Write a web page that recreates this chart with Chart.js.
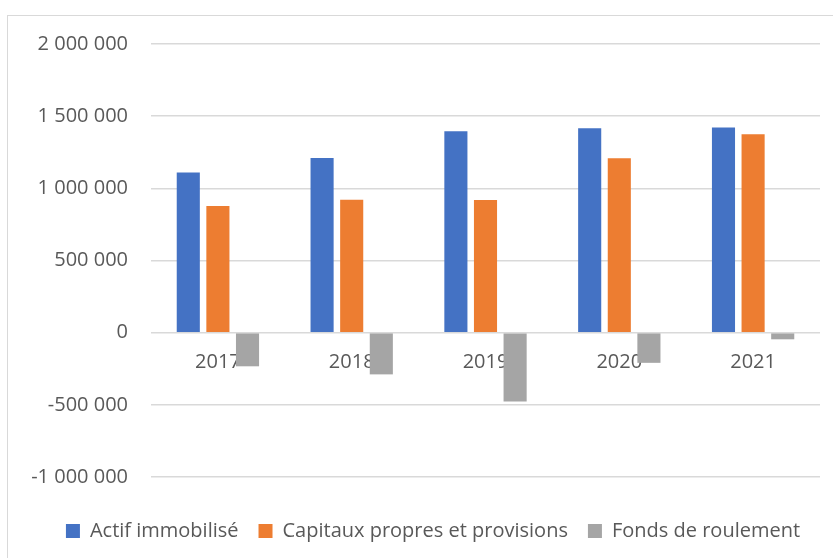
<!DOCTYPE html>
<html>
<head>
<meta charset="utf-8">
<script src="https://cdn.jsdelivr.net/npm/chart.js@4/dist/chart.umd.min.js"></script>
<style>
  html, body { margin: 0; padding: 0; background: #ffffff; }
  #wrap { width: 833px; height: 558px; position: relative; }
</style>
</head>
<body>
<div id="wrap"><canvas id="c" width="833" height="558"></canvas></div>
<script>
const categories = ['2017', '2018', '2019', '2020', '2021'];
const actifImmobilise = [1110000, 1210000, 1396000, 1417000, 1421000];
const capitauxPropres = [877000, 921000, 919000, 1208000, 1375000];
const fondsRoulement = [-233000, -289000, -477000, -209000, -46000];
const seriesNames = ['Actif immobilisé', 'Capitaux propres et provisions', 'Fonds de roulement'];
const yTicks = [-1000000, -500000, 0, 500000, 1000000, 1500000, 2000000];

function fmt(v) {
  const s = String(Math.abs(v)).replace(/\B(?=(\d{3})+(?!\d))/g, ' ');
  return (v < 0 ? '-' : '') + s;
}

const TEXT = '#595959';
const FONT = "'Open Sans', sans-serif";

const framePlugin = {
  id: 'frame',
  beforeDraw(chart) {
    const ctx = chart.ctx;
    ctx.save();
    ctx.fillStyle = '#ffffff';
    ctx.fillRect(0, 0, chart.width, chart.height);
    ctx.strokeStyle = '#d9d9d9';
    ctx.lineWidth = 1;
    ctx.strokeRect(7.5, 15.5, 900, 700);
    ctx.restore();
  }
};

const legendShift = {
  id: 'legendShift',
  afterLayout(chart) {
    const l = chart.legend;
    const dy = 526 - (l.top + l.bottom) / 2;
    l.top += dy; l.bottom += dy;
    const dx = 433 - (l.left + l.right) / 2;
    l.left += dx; l.right += dx;
  }
};

new Chart(document.getElementById('c'), {
  type: 'bar',
  data: {
    labels: categories,
    datasets: [
      { label: seriesNames[0], data: actifImmobilise, backgroundColor: '#4472C4' },
      { label: seriesNames[1], data: capitauxPropres, backgroundColor: '#ED7D31' },
      { label: seriesNames[2], data: fondsRoulement, backgroundColor: '#A5A5A5' }
    ]
  },
  options: {
    responsive: false,
    animation: false,
    devicePixelRatio: 1,
    layout: { padding: { top: 44, right: 13, left: 0, bottom: 31 } },
    datasets: { bar: { barPercentage: 0.78, categoryPercentage: 0.664 } },
    plugins: {
      legend: {
        position: 'bottom',
        labels: {
          boxWidth: 14, boxHeight: 14, padding: 20,
          color: TEXT, font: { family: FONT, size: 20 }
        }
      },
      tooltip: { enabled: false }
    },
    scales: {
      x: {
        position: { y: 0 },
        grid: { display: false, drawTicks: false },
        border: { display: false },
        ticks: { color: TEXT, font: { family: FONT, size: 20 }, padding: 18 }
      },
      y: {
        min: -1000000, max: 2000000,
        afterBuildTicks(scale) { scale.ticks = yTicks.map(v => ({ value: v })); },
        afterFit(scale) { scale.width = 151; },
        grid: { color: '#d9d9d9', lineWidth: 1.5, drawTicks: false },
        border: { display: false },
        ticks: {
          color: TEXT, font: { family: FONT, size: 20 }, padding: 23,
          callback: v => fmt(v)
        }
      }
    }
  },
  plugins: [framePlugin, legendShift]
});
</script>
</body>
</html>
